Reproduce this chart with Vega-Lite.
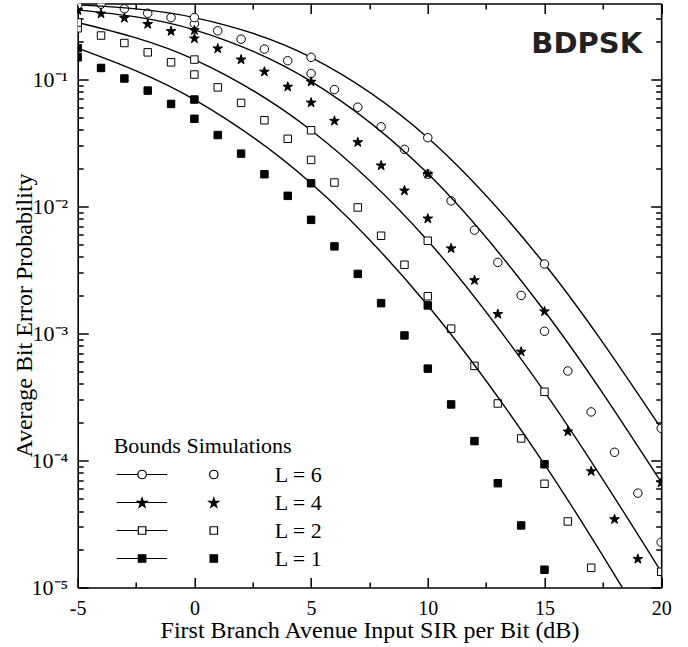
{
  "$schema": "https://vega.github.io/schema/vega-lite/v6.json",
  "width": 583.5,
  "height": 584,
  "autosize": "none",
  "padding": {"left": 77.7, "top": 3.5, "right": 26.8, "bottom": 59.5},
  "background": "white",
  "config": {"view": {"stroke": null}, "axis": {"grid": false, "ticks": true, "tickOpacity": 1, "tickColor": "black", "tickWidth": 1.5}},
  "datasets": {
    "bounds": [
      {"L": 6, "snr": -5, "ber": 0.385}, {"L": 6, "snr": 0, "ber": 0.306}, {"L": 6, "snr": 5, "ber": 0.149}, {"L": 6, "snr": 10, "ber": 0.0347}, {"L": 6, "snr": 15, "ber": 0.00352}, {"L": 6, "snr": 20, "ber": 0.000179},
      {"L": 4, "snr": -5, "ber": 0.352}, {"L": 4, "snr": 0, "ber": 0.245}, {"L": 4, "snr": 5, "ber": 0.0963}, {"L": 4, "snr": 10, "ber": 0.0181}, {"L": 4, "snr": 15, "ber": 0.0015}, {"L": 4, "snr": 20, "ber": 0.0000674},
      {"L": 2, "snr": -5, "ber": 0.28}, {"L": 2, "snr": 0, "ber": 0.143}, {"L": 2, "snr": 5, "ber": 0.0397}, {"L": 2, "snr": 10, "ber": 0.00536}, {"L": 2, "snr": 15, "ber": 0.000347}, {"L": 2, "snr": 20, "ber": 0.0000133},
      {"L": 1, "snr": -5, "ber": 0.176}, {"L": 1, "snr": 0, "ber": 0.0693}, {"L": 1, "snr": 5, "ber": 0.0152}, {"L": 1, "snr": 10, "ber": 0.00166}, {"L": 1, "snr": 15, "ber": 0.0000933}, {"L": 1, "snr": 20, "ber": 0.0000031}
    ],
    "sims": [
      {"L": 6, "snr": -4, "ber": 0.39}, {"L": 6, "snr": -3, "ber": 0.359}, {"L": 6, "snr": -2, "ber": 0.331}, {"L": 6, "snr": -1, "ber": 0.306}, {"L": 6, "snr": 0, "ber": 0.274}, {"L": 6, "snr": 1, "ber": 0.241}, {"L": 6, "snr": 2, "ber": 0.207}, {"L": 6, "snr": 3, "ber": 0.173}, {"L": 6, "snr": 4, "ber": 0.14}, {"L": 6, "snr": 5, "ber": 0.111}, {"L": 6, "snr": 6, "ber": 0.083}, {"L": 6, "snr": 7, "ber": 0.0603}, {"L": 6, "snr": 8, "ber": 0.0423}, {"L": 6, "snr": 9, "ber": 0.0281}, {"L": 6, "snr": 10, "ber": 0.0179}, {"L": 6, "snr": 11, "ber": 0.01104}, {"L": 6, "snr": 12, "ber": 0.0065}, {"L": 6, "snr": 13, "ber": 0.00362}, {"L": 6, "snr": 14, "ber": 0.00199}, {"L": 6, "snr": 15, "ber": 0.00104}, {"L": 6, "snr": 16, "ber": 0.000506}, {"L": 6, "snr": 17, "ber": 0.000241}, {"L": 6, "snr": 18, "ber": 0.000116}, {"L": 6, "snr": 19, "ber": 0.0000553}, {"L": 6, "snr": 20, "ber": 0.0000227},
      {"L": 4, "snr": -5, "ber": 0.355}, {"L": 4, "snr": -4, "ber": 0.331}, {"L": 4, "snr": -3, "ber": 0.306}, {"L": 4, "snr": -2, "ber": 0.274}, {"L": 4, "snr": -1, "ber": 0.241}, {"L": 4, "snr": 0, "ber": 0.211}, {"L": 4, "snr": 1, "ber": 0.176}, {"L": 4, "snr": 2, "ber": 0.144}, {"L": 4, "snr": 3, "ber": 0.1156}, {"L": 4, "snr": 4, "ber": 0.088}, {"L": 4, "snr": 5, "ber": 0.066}, {"L": 4, "snr": 6, "ber": 0.0474}, {"L": 4, "snr": 7, "ber": 0.0322}, {"L": 4, "snr": 8, "ber": 0.0211}, {"L": 4, "snr": 9, "ber": 0.0134}, {"L": 4, "snr": 10, "ber": 0.00807}, {"L": 4, "snr": 11, "ber": 0.0047}, {"L": 4, "snr": 12, "ber": 0.00264}, {"L": 4, "snr": 13, "ber": 0.00143}, {"L": 4, "snr": 14, "ber": 0.000723}, {"L": 4, "snr": 16, "ber": 0.00017}, {"L": 4, "snr": 17, "ber": 0.0000828}, {"L": 4, "snr": 18, "ber": 0.0000347}, {"L": 4, "snr": 19, "ber": 0.0000169},
      {"L": 2, "snr": -5, "ber": 0.252}, {"L": 2, "snr": -4, "ber": 0.221}, {"L": 2, "snr": -3, "ber": 0.193}, {"L": 2, "snr": -2, "ber": 0.163}, {"L": 2, "snr": -1, "ber": 0.136}, {"L": 2, "snr": 0, "ber": 0.109}, {"L": 2, "snr": 1, "ber": 0.0864}, {"L": 2, "snr": 2, "ber": 0.0652}, {"L": 2, "snr": 3, "ber": 0.0476}, {"L": 2, "snr": 4, "ber": 0.034}, {"L": 2, "snr": 5, "ber": 0.0232}, {"L": 2, "snr": 6, "ber": 0.0154}, {"L": 2, "snr": 7, "ber": 0.0098}, {"L": 2, "snr": 8, "ber": 0.00587}, {"L": 2, "snr": 9, "ber": 0.00347}, {"L": 2, "snr": 10, "ber": 0.00196}, {"L": 2, "snr": 11, "ber": 0.00109}, {"L": 2, "snr": 12, "ber": 0.000555}, {"L": 2, "snr": 13, "ber": 0.000281}, {"L": 2, "snr": 14, "ber": 0.000149}, {"L": 2, "snr": 15, "ber": 0.0000655}, {"L": 2, "snr": 16, "ber": 0.0000331}, {"L": 2, "snr": 17, "ber": 0.0000143},
      {"L": 1, "snr": -5, "ber": 0.149}, {"L": 1, "snr": -4, "ber": 0.1228}, {"L": 1, "snr": -3, "ber": 0.1014}, {"L": 1, "snr": -2, "ber": 0.0815}, {"L": 1, "snr": -1, "ber": 0.064}, {"L": 1, "snr": 0, "ber": 0.0489}, {"L": 1, "snr": 1, "ber": 0.0364}, {"L": 1, "snr": 2, "ber": 0.026}, {"L": 1, "snr": 3, "ber": 0.0179}, {"L": 1, "snr": 4, "ber": 0.0121}, {"L": 1, "snr": 5, "ber": 0.00783}, {"L": 1, "snr": 6, "ber": 0.00484}, {"L": 1, "snr": 7, "ber": 0.00294}, {"L": 1, "snr": 8, "ber": 0.00173}, {"L": 1, "snr": 9, "ber": 0.000964}, {"L": 1, "snr": 10, "ber": 0.000528}, {"L": 1, "snr": 11, "ber": 0.000276}, {"L": 1, "snr": 12, "ber": 0.000142}, {"L": 1, "snr": 13, "ber": 0.0000662}, {"L": 1, "snr": 14, "ber": 0.0000308}, {"L": 1, "snr": 15, "ber": 0.0000138}
    ]
  },
  "resolve": {
    "scale": {"shape": "independent", "fill": "independent", "stroke": "independent"},
    "axis": {"x": "independent", "y": "independent"},
    "legend": {"shape": "independent", "fill": "independent", "stroke": "independent"}
  },
  "layer": [
    {
      "data": {"name": "sims"},
      "mark": {"type": "point", "filled": true, "stroke": "black", "strokeWidth": 1, "size": 72, "opacity": 1, "clip": true},
      "encoding": {
        "x": {"field": "snr", "type": "quantitative", "scale": {"domain": [-5, 20], "nice": false, "zero": false},
          "axis": {"orient": "top", "offset": -584, "values": [-5, 0, 5, 10, 15, 20], "labels": false, "domain": false, "title": null, "ticks": true, "tickOpacity": 1, "tickDash": [], "tickSize": 10, "tickColor": "black", "tickWidth": 1.5, "minExtent": 0, "maxExtent": 0}},
        "y": {"field": "ber", "type": "quantitative", "scale": {"type": "log", "domain": [0.00001, 0.395], "nice": false},
          "axis": {"orient": "right", "offset": -583.5, "values": [0.00001, 0.0001, 0.001, 0.01, 0.1], "labels": false, "domain": false, "title": null, "ticks": true, "tickOpacity": 1, "tickDash": [], "tickSize": 10.5, "tickColor": "black", "tickWidth": 1.5, "minExtent": 0, "maxExtent": 0}},
        "shape": {"field": "L", "type": "nominal", "scale": {"domain": [6, 4, 2, 1], "range": ["circle", "M0,-1.09L0.269,-0.261L1.141,-0.261L0.436,0.252L0.705,1.081L0,0.568L-0.705,1.081L-0.436,0.252L-1.141,-0.261L-0.269,-0.261Z", "M-0.88,-0.88H0.88V0.88H-0.88Z", "M-0.88,-0.88H0.88V0.88H-0.88Z"]}, "legend": null},
        "fill": {"field": "L", "type": "nominal", "scale": {"domain": [6, 4, 2, 1], "range": ["white", "black", "white", "black"]}, "legend": null}
      }
    },
    {
      "data": {"name": "bounds"},
      "mark": {"type": "line", "color": "black", "strokeWidth": 1.4, "interpolate": "monotone", "clip": true},
      "encoding": {
        "x": {"field": "snr", "type": "quantitative", "scale": {"domain": [-5, 20], "nice": false, "zero": false},
          "axis": {"orient": "bottom", "values": [-5, 0, 5, 10, 15, 20],
            "labelExpr": "'' + datum.value",
            "ticks": false, "labelPadding": 11, "domainColor": "black", "domainWidth": 1.6,
            "labelFont": "Liberation Serif", "labelFontSize": 20, "labelColor": "black", "labelFlush": false, "labelOverlap": false,
            "title": "First Branch Avenue Input SIR per Bit (dB)", "titleFont": "Liberation Serif", "titleFontSize": 24, "titleFontWeight": "normal", "titleColor": "black", "titleY": 50, "titleBaseline": "alphabetic"}},
        "y": {"field": "ber", "type": "quantitative", "scale": {"type": "log", "domain": [0.00001, 0.395], "nice": false},
          "axis": {"orient": "left",
            "values": [0.00001, 0.0001, 0.001, 0.01, 0.1],
            "labelExpr": "'10' + ['⁰','⁻¹','⁻²','⁻³','⁻⁴','⁻⁵'][-round(log(datum.value)/LN10)]",
            "ticks": false, "labelPadding": 10, "domainColor": "black", "domainWidth": 1.6,
            "labelFont": "Liberation Serif", "labelFontSize": 22, "labelColor": "black", "labelFlush": false, "labelOverlap": false, "labelBaseline": "middle",
            "title": "Average Bit Error Probability", "titleFont": "Liberation Serif", "titleFontSize": 24, "titleFontWeight": "normal", "titleColor": "black", "titleX": -46, "titleY": 311.5, "titleBaseline": "alphabetic", "titleAngle": -90}},
        "detail": {"field": "L", "type": "nominal"}
      }
    },
    {
      "data": {"name": "bounds"},
      "mark": {"type": "point", "filled": true, "stroke": "black", "strokeWidth": 1, "size": 72, "opacity": 1, "clip": true},
      "encoding": {
        "x": {"field": "snr", "type": "quantitative", "scale": {"domain": [-5, 20], "nice": false, "zero": false},
          "axis": {"orient": "bottom", "offset": -584, "values": [-5, 0, 5, 10, 15, 20], "labels": false, "title": null, "ticks": true, "tickOpacity": 1, "tickDash": [], "tickSize": 10,
            "tickColor": "black", "tickWidth": 1.5, "domainColor": "black", "domainWidth": 1.6, "minExtent": 0, "maxExtent": 0}},
        "y": {"field": "ber", "type": "quantitative", "scale": {"type": "log", "domain": [0.00001, 0.395], "nice": false},
          "axis": {"orient": "left", "offset": -583.5, "labels": false, "title": null, "values": [0.00001, 0.0001, 0.001, 0.01, 0.1], "ticks": true, "tickOpacity": 1, "tickDash": [], "tickSize": 10.5,
            "tickColor": "black", "tickWidth": 1.5, "domainColor": "black", "domainWidth": 1.6, "minExtent": 0, "maxExtent": 0}},
        "shape": {"field": "L", "type": "nominal", "scale": {"domain": [6, 4, 2, 1], "range": ["circle", "M0,-1.09L0.269,-0.261L1.141,-0.261L0.436,0.252L0.705,1.081L0,0.568L-0.705,1.081L-0.436,0.252L-1.141,-0.261L-0.269,-0.261Z", "M-0.88,-0.88H0.88V0.88H-0.88Z", "M-0.88,-0.88H0.88V0.88H-0.88Z"]}, "legend": null},
        "fill": {"field": "L", "type": "nominal", "scale": {"domain": [6, 4, 2, 1], "range": ["white", "black", "white", "black"]}, "legend": null}
      }
    },
    {
      "data": {"name": "sims"},
      "transform": [{"filter": "false"}],
      "mark": {"type": "point", "filled": true, "strokeWidth": 1.2, "size": 72, "opacity": 1},
      "encoding": {
        "x": {"field": "snr", "type": "quantitative", "scale": {"domain": [-5, 20], "nice": false, "zero": false},
          "axis": {"orient": "top", "offset": -584, "values": [-2.5, 2.5, 7.5, 12.5, 17.5], "labels": false, "domain": false, "title": null, "ticks": true, "tickOpacity": 1, "tickDash": [], "tickSize": 5.5, "tickColor": "black", "tickWidth": 1.5, "minExtent": 0, "maxExtent": 0}},
        "y": {"field": "ber", "type": "quantitative", "scale": {"type": "log", "domain": [0.00001, 0.395], "nice": false},
          "axis": {"orient": "right", "offset": -583.5, "labels": false, "domain": false, "title": null, "ticks": true, "tickOpacity": 1, "tickDash": [], "tickSize": 5.5, "tickColor": "black", "tickWidth": 1.5, "minExtent": 0, "maxExtent": 0,
            "values": [0.00002, 0.00003, 0.00004, 0.00005, 0.00006, 0.00007, 0.00008, 0.00009, 0.0002, 0.0003, 0.0004, 0.0005, 0.0006, 0.0007, 0.0008, 0.0009, 0.002, 0.003, 0.004, 0.005, 0.006, 0.007, 0.008, 0.009, 0.02, 0.03, 0.04, 0.05, 0.06, 0.07, 0.08, 0.09, 0.2, 0.3]}},
        "shape": {"field": "L", "type": "nominal", "scale": {"domain": [6, 4, 2, 1], "range": [
          "M-1.9,0L3.1,0M5.1,0L10,0M5.1,0A1,1,0,1,1,3.1,0A1,1,0,1,1,5.1,0ZM22,0A1,1,0,1,1,20,0A1,1,0,1,1,22,0Z",
          "M-1.9,0L10,0M4.1,-1.09L4.369,-0.261L5.241,-0.261L4.536,0.252L4.805,1.081L4.1,0.568L3.395,1.081L3.664,0.252L2.959,-0.261L3.831,-0.261ZM21,-1.09L21.269,-0.261L22.141,-0.261L21.436,0.252L21.705,1.081L21,0.568L20.295,1.081L20.564,0.252L19.859,-0.261L20.731,-0.261Z",
          "M-1.9,0L3.22,0M4.98,0L10,0M3.22,-0.88H4.98V0.88H3.22ZM20.12,-0.88H21.88V0.88H20.12Z",
          "M-1.9,0L10,0M3.22,-0.88H4.98V0.88H3.22ZM20.12,-0.88H21.88V0.88H20.12Z"]},
          "legend": {"title": "Bounds Simulations", "orient": "none", "legendX": 36, "legendY": 432, "labelExpr": "'L = ' + datum.label",
            "titleFont": "Liberation Serif", "titleFontSize": 22, "titleFontWeight": "normal", "titleColor": "black", "titlePadding": 6,
            "labelFont": "Liberation Serif", "labelFontSize": 22, "labelColor": "black", "labelOffset": 139, "rowPadding": 6,
            "symbolSize": 72, "symbolStrokeWidth": 1.2}},
        "fill": {"field": "L", "type": "nominal", "scale": {"domain": [6, 4, 2, 1], "range": ["white", "black", "white", "black"]},
          "legend": {"title": "Bounds Simulations", "orient": "none", "legendX": 36, "legendY": 432, "labelExpr": "'L = ' + datum.label",
            "titleFont": "Liberation Serif", "titleFontSize": 22, "titleFontWeight": "normal", "titleColor": "black", "titlePadding": 6,
            "labelFont": "Liberation Serif", "labelFontSize": 22, "labelColor": "black", "labelOffset": 139, "rowPadding": 6,
            "symbolSize": 72, "symbolStrokeWidth": 1.2}},
        "stroke": {"field": "L", "type": "nominal", "scale": {"domain": [6, 4, 2, 1], "range": ["black", "black", "black", "black"]},
          "legend": {"title": "Bounds Simulations", "orient": "none", "legendX": 36, "legendY": 432, "labelExpr": "'L = ' + datum.label",
            "titleFont": "Liberation Serif", "titleFontSize": 22, "titleFontWeight": "normal", "titleColor": "black", "titlePadding": 6,
            "labelFont": "Liberation Serif", "labelFontSize": 22, "labelColor": "black", "labelOffset": 139, "rowPadding": 6,
            "symbolSize": 72, "symbolStrokeWidth": 1.2}}
      }
    },
    {
      "data": {"name": "sims"},
      "transform": [{"filter": "false"}],
      "mark": {"type": "point", "opacity": 0},
      "encoding": {
        "x": {"field": "snr", "type": "quantitative", "scale": {"domain": [-5, 20], "nice": false, "zero": false},
          "axis": {"orient": "bottom", "offset": -584, "values": [-2.5, 2.5, 7.5, 12.5, 17.5], "labels": false, "domain": false, "title": null, "ticks": true, "tickOpacity": 1, "tickDash": [], "tickSize": 5.5, "tickColor": "black", "tickWidth": 1.5, "minExtent": 0, "maxExtent": 0}},
        "y": {"field": "ber", "type": "quantitative", "scale": {"type": "log", "domain": [0.00001, 0.395], "nice": false},
          "axis": {"orient": "left", "offset": -583.5, "labels": false, "domain": false, "title": null, "ticks": true, "tickOpacity": 1, "tickDash": [], "tickSize": 5.5, "tickColor": "black", "tickWidth": 1.5, "minExtent": 0, "maxExtent": 0,
            "values": [0.00002, 0.00003, 0.00004, 0.00005, 0.00006, 0.00007, 0.00008, 0.00009, 0.0002, 0.0003, 0.0004, 0.0005, 0.0006, 0.0007, 0.0008, 0.0009, 0.002, 0.003, 0.004, 0.005, 0.006, 0.007, 0.008, 0.009, 0.02, 0.03, 0.04, 0.05, 0.06, 0.07, 0.08, 0.09, 0.2, 0.3]}}
      }
    },
    {
      "data": {"values": [{"label": "BDPSK"}]},
      "mark": {"type": "text", "font": "DejaVu Sans", "fontSize": 29, "fontWeight": "bold", "color": "#222", "align": "center", "baseline": "middle"},
      "encoding": {
        "x": {"datum": 16.81, "type": "quantitative", "scale": {"domain": [-5, 20], "nice": false, "zero": false}, "axis": null},
        "y": {"datum": 0.191, "type": "quantitative", "scale": {"type": "log", "domain": [0.00001, 0.395], "nice": false}, "axis": null},
        "text": {"field": "label"}
      }
    }
  ]
}
